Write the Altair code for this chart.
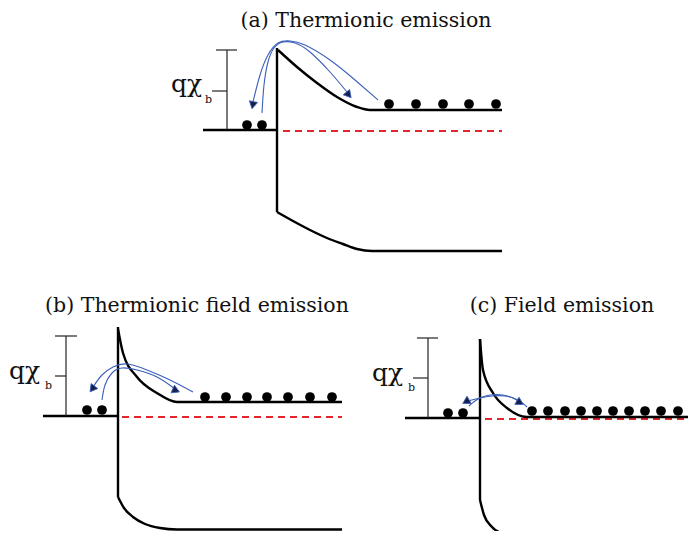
import altair as alt
import pandas as pd

W, H = 680, 523
XD = [8, 688]
YD = [8, 531]

# ---- titles ----
titles = ["(a) Thermionic emission", "(b) Thermionic field emission", "(c) Field emission"]
title_x = [366, 197, 562]
title_y = [27, 312, 312]

# ---- straight band lines (metal level, interface verticals) ----
band_x1 = [203, 277, 43, 118, 405, 480]
band_y1 = [130, 48, 416, 327, 418, 339]
band_x2 = [277, 277, 118, 118, 480, 480]
band_y2 = [130, 212, 416, 497, 418, 500]

# ---- bent band curves (conduction / valence) ----
a_cb_x = [278, 297, 317, 337, 357, 370, 502]
a_cb_y = [50, 67, 83, 97, 107, 110, 110]
a_vb_x = [277, 293, 310, 327, 343, 357, 372, 502]
a_vb_y = [212, 221, 230, 238, 244, 249, 251, 251]
b_cb_x = [118, 123, 137, 157, 177, 342]
b_cb_y = [329, 353, 377, 393, 402, 402]
b_vb_x = [118, 124, 133, 145, 160, 177, 342]
b_vb_y = [497, 508, 517, 524, 528, 529.5, 529.5]
c_cb_x = [480, 483, 493, 507, 527, 696]
c_cb_y = [339, 370, 393, 408, 417, 417]
c_vb_x = [480, 484, 492, 503, 517]
c_vb_y = [500, 515, 527, 534, 538]

# ---- Fermi level (red dashed) ----
fermi_x1 = [283, 122, 485]
fermi_x2 = [502, 342, 696]
fermi_y = [131, 417, 419]

# ---- barrier-height brackets ----
br_x1 = [227, 216, 212, 66, 55, 55, 428, 417, 413]
br_y1 = [50, 50, 91, 336, 336, 376, 338, 338, 378]
br_x2 = [227, 237, 227, 66, 77, 66, 428, 438, 428]
br_y2 = [130, 50, 91, 416, 336, 376, 418, 338, 378]

# ---- qχ_b labels ----
q_x = [171, 9, 372]
q_y = [92, 379, 381]
sub_x = [205, 45, 408]
sub_y = [103, 389, 391]

# ---- electrons ----
dots_x = [247, 262, 389, 416, 443, 469, 496,
          87, 102, 205, 226, 247, 267, 288, 310, 332,
          448, 463, 532, 548, 565, 581, 597, 613, 629, 645, 661, 678, 694]
dots_y = [125, 125, 104, 104, 104, 104, 104,
          410, 410, 397, 397, 397, 397, 397, 397, 397,
          413, 413, 411, 411, 411, 411, 411, 411, 411, 411, 411, 411, 411]

# ---- blue emission arrows ----
a_ar1_x = [262, 264, 268, 274, 283, 295, 310, 330, 347]
a_ar1_y = [113, 85, 62, 48, 42, 43, 52, 72, 92]
a_ar2_x = [378, 355, 330, 305, 290, 278, 268, 260, 253]
a_ar2_y = [100, 80, 60, 45, 41, 43, 55, 75, 102]
b_ar1_x = [102, 105, 112, 122, 137, 157, 175]
b_ar1_y = [400, 385, 373, 368, 370, 377, 389]
b_ar2_x = [193, 170, 147, 127, 113, 102, 93]
b_ar2_y = [392, 380, 370, 364, 367, 375, 387]
c_ar1_x = [469, 478, 490, 503, 513, 519]
c_ar1_y = [406, 399, 395, 395, 398, 402]
c_ar2_x = [527, 518, 505, 492, 480, 468]
c_ar2_y = [407, 400, 396, 396, 398, 401]

head_x = [348, 253, 175, 93, 519, 467]
head_y = [94, 104, 390, 388, 402, 401]
head_angle = [140, 192, 114, 217, 120, 240]

xs = alt.Scale(domain=XD, nice=False, zero=False)
ys = alt.Scale(domain=YD, reverse=True, nice=False, zero=False)


def curves_df(pairs):
    rows = []
    for name, (cx, cy) in pairs.items():
        for i, (a, b) in enumerate(zip(cx, cy)):
            rows.append({"seg": name, "i": i, "x": a, "y": b})
    return pd.DataFrame(rows)


bands_df = curves_df({"acb": (a_cb_x, a_cb_y), "avb": (a_vb_x, a_vb_y),
                      "bcb": (b_cb_x, b_cb_y), "bvb": (b_vb_x, b_vb_y),
                      "ccb": (c_cb_x, c_cb_y), "cvb": (c_vb_x, c_vb_y)})
arrows_df = curves_df({"a1": (a_ar1_x, a_ar1_y), "a2": (a_ar2_x, a_ar2_y),
                       "b1": (b_ar1_x, b_ar1_y), "b2": (b_ar2_x, b_ar2_y),
                       "c1": (c_ar1_x, c_ar1_y), "c2": (c_ar2_x, c_ar2_y)})

band_lines = pd.DataFrame({"x": band_x1, "y": band_y1, "x2": band_x2, "y2": band_y2})
fermi = pd.DataFrame({"x": fermi_x1, "x2": fermi_x2, "y": fermi_y})
brackets = pd.DataFrame({"x": br_x1, "y": br_y1, "x2": br_x2, "y2": br_y2})
tdf = pd.DataFrame({"x": title_x, "y": title_y, "t": titles})
qdf = pd.DataFrame({"x": q_x, "y": q_y, "t": ["qχ"] * 3})
sdf = pd.DataFrame({"x": sub_x, "y": sub_y, "t": ["b"] * 3})
ddf = pd.DataFrame({"x": dots_x, "y": dots_y})
hdf = pd.DataFrame({"x": head_x, "y": head_y, "a": head_angle})

X = alt.X("x:Q", scale=xs, axis=None)
Y = alt.Y("y:Q", scale=ys, axis=None)

band_curve_layer = alt.Chart(bands_df).mark_line(
    interpolate="monotone", color="black", strokeWidth=2.4
).encode(x=X, y=Y, detail="seg:N", order="i:Q")

band_rule_layer = alt.Chart(band_lines).mark_rule(
    color="black", strokeWidth=2.4
).encode(x=X, y=Y, x2="x2:Q", y2="y2:Q")

fermi_layer = alt.Chart(fermi).mark_rule(
    color="#e3262b", strokeWidth=1.8, strokeDash=[7, 5]
).encode(x=X, y=Y, x2="x2:Q")

bracket_layer = alt.Chart(brackets).mark_rule(
    color="#222222", strokeWidth=1.2
).encode(x=X, y=Y, x2="x2:Q", y2="y2:Q")

arrow_layer = alt.Chart(arrows_df).mark_line(
    interpolate="natural", color="#3b5fba", strokeWidth=1.1
).encode(x=X, y=Y, detail="seg:N", order="i:Q")

head_layer = alt.Chart(hdf).mark_point(
    shape="triangle", filled=True, size=70, color="#15204a",
    stroke="#3b5fba", strokeWidth=0.8, opacity=1
).encode(x=X, y=Y, angle=alt.Angle("a:Q", scale=None))

dot_layer = alt.Chart(ddf).mark_circle(
    size=95, color="black", opacity=1
).encode(x=X, y=Y)

title_layer = alt.Chart(tdf).mark_text(
    font="DejaVu Serif", fontSize=20.5, align="center", baseline="alphabetic", color="#111111"
).encode(x=X, y=Y, text="t:N")

q_layer = alt.Chart(qdf).mark_text(
    font="DejaVu Serif", fontSize=25, align="left", baseline="alphabetic", color="#111111"
).encode(x=X, y=Y, text="t:N")

sub_layer = alt.Chart(sdf).mark_text(
    font="DejaVu Serif", fontSize=11, align="left", baseline="alphabetic", color="#111111"
).encode(x=X, y=Y, text="t:N")

chart = alt.layer(
    fermi_layer, band_curve_layer, band_rule_layer, bracket_layer,
    arrow_layer, head_layer, dot_layer, title_layer, q_layer, sub_layer
).properties(
    width=W, height=H, padding=0,
    autosize=alt.AutoSizeParams(type="none")
).configure_view(stroke=None)

chart.save("out.html", embed_options={"renderer": "svg", "actions": False})
